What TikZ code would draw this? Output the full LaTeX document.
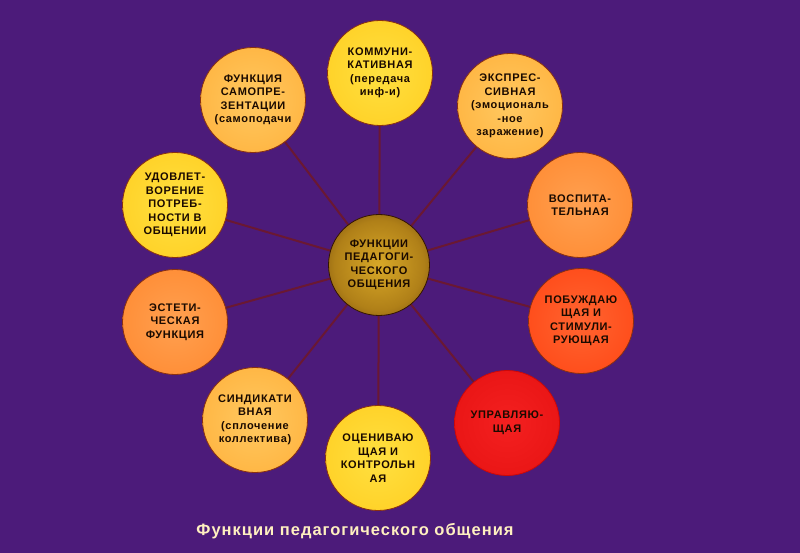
\documentclass[tikz,border=0pt]{standalone}
\usepackage{fontspec}
\setmainfont{Liberation Sans}
\usetikzlibrary{backgrounds}
\definecolor{bgpurple}{HTML}{4C1B7A}
\definecolor{linec}{HTML}{6A1832}
\definecolor{rimc}{HTML}{8A3010}
\definecolor{txt}{HTML}{1A0A00}
\definecolor{titlec}{HTML}{FFF0C0}
\definecolor{yA}{HTML}{FFE040}\definecolor{yB}{HTML}{FFD025}\definecolor{yC}{HTML}{F2A012}
\definecolor{lA}{HTML}{FFC860}\definecolor{lB}{HTML}{FFB440}\definecolor{lC}{HTML}{EE8A1C}
\definecolor{oA}{HTML}{FFA050}\definecolor{oB}{HTML}{FF8C34}\definecolor{oC}{HTML}{EC6814}
\definecolor{rA}{HTML}{FF6430}\definecolor{rB}{HTML}{FF4A18}\definecolor{rC}{HTML}{E02E0C}
\definecolor{dA}{HTML}{F42020}\definecolor{dB}{HTML}{E81414}\definecolor{dC}{HTML}{CC0808}
\definecolor{cA}{HTML}{D8A828}\definecolor{cB}{HTML}{B08018}\definecolor{cC}{HTML}{341400}
\pgfdeclareradialshading{shY}{\pgfpoint{0bp}{0bp}}{color(0bp)=(yA); color(30bp)=(yB); color(50bp)=(yC)}
\pgfdeclareradialshading{shL}{\pgfpoint{0bp}{0bp}}{color(0bp)=(lA); color(30bp)=(lB); color(50bp)=(lC)}
\pgfdeclareradialshading{shO}{\pgfpoint{0bp}{0bp}}{color(0bp)=(oA); color(30bp)=(oB); color(50bp)=(oC)}
\pgfdeclareradialshading{shR}{\pgfpoint{0bp}{0bp}}{color(0bp)=(rA); color(30bp)=(rB); color(50bp)=(rC)}
\pgfdeclareradialshading{shD}{\pgfpoint{0bp}{0bp}}{color(0bp)=(dA); color(30bp)=(dB); color(50bp)=(dC)}
\pgfdeclareradialshading{shC}{\pgfpoint{0bp}{0bp}}{color(0bp)=(cA); color(22bp)=(cB); color(50bp)=(cC)}
\newfontfamily\lsfont[LetterSpace=6]{Liberation Sans}
\newfontfamily\tsfont[LetterSpace=6]{Liberation Sans}
\begin{document}
\begin{tikzpicture}[x=1pt,y=-1pt,
  fn/.style={circle, minimum size=105pt, inner sep=0pt, draw=rimc, line width=0.8pt,
    align=center, font=\lsfont\fontsize{11}{13.5}\selectfont\bfseries, text=txt, shade},
  gY/.style={shading=shY}, gL/.style={shading=shL}, gO/.style={shading=shO},
  gR/.style={shading=shR}, gD/.style={shading=shD},
  conn/.style={draw=linec, line width=2pt}]
\begin{scope}[on background layer]
\fill[bgpurple] (0,0) rectangle (800,553);
\end{scope}
\useasboundingbox (0,0) rectangle (800,553);
\node[fn, shading=shC, minimum size=101pt, draw=cC] (c) at (379,265) {ФУНКЦИИ\\ПЕДАГОГИ-\\ЧЕСКОГО\\ОБЩЕНИЯ};
\node[fn, gY] (n1) at (380,73) {КОММУНИ-\\КАТИВНАЯ\\(передача\\инф-и)};
\node[fn, gL] (n2) at (510,106) {ЭКСПРЕС-\\СИВНАЯ\\(эмоциональ\\-ное\\заражение)};
\node[fn, gO] (n3) at (580,205) {ВОСПИТА-\\ТЕЛЬНАЯ};
\node[fn, gR] (n4) at (581,321) {ПОБУЖДАЮ\\ЩАЯ И\\СТИМУЛИ-\\РУЮЩАЯ};
\node[fn, gD, draw=dC] (n5) at (507,423) {УПРАВЛЯЮ-\\ЩАЯ};
\node[fn, gY] (n6) at (378,458) {ОЦЕНИВАЮ\\ЩАЯ И\\КОНТРОЛЬН\\АЯ};
\node[fn, gL] (n7) at (255,420) {СИНДИКАТИ\\ВНАЯ\\(сплочение\\коллектива)};
\node[fn, gO] (n8) at (175,322) {ЭСТЕТИ-\\ЧЕСКАЯ\\ФУНКЦИЯ};
\node[fn, gY] (n9) at (175,205) {УДОВЛЕТ-\\ВОРЕНИЕ\\ПОТРЕБ-\\НОСТИ В\\ОБЩЕНИИ};
\node[fn, gL] (n10) at (253,100) {ФУНКЦИЯ\\САМОПРЕ-\\ЗЕНТАЦИИ\\(самоподачи};
\node[font=\tsfont\fontsize{16.5}{20}\selectfont\bfseries, text=titlec] (title) at (355,531) {Функции педагогического общения};
\begin{scope}[on background layer]
\foreach \n in {n1,n2,n3,n4,n5,n6,n7,n8,n9,n10}
  \draw[conn] (c.center) -- (\n.center);
\end{scope}
\end{tikzpicture}
\end{document}
